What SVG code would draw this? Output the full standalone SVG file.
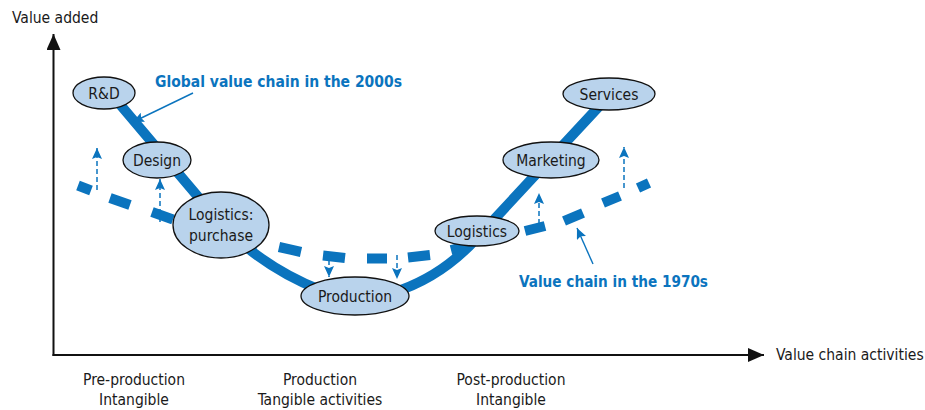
<svg xmlns="http://www.w3.org/2000/svg" width="925" height="410" viewBox="0 0 925 410">
  <style>
    .lbl { font-family: "DejaVu Sans Condensed", "DejaVu Sans", sans-serif; font-stretch: condensed; font-size: 15.5px; fill: #1a1a1a; }
    .node-text { font-family: "DejaVu Sans Condensed", "DejaVu Sans", sans-serif; font-stretch: condensed; font-size: 15.5px; fill: #1a1a1a; text-anchor: middle; }
    .blue-lbl { font-family: "DejaVu Sans Condensed", "DejaVu Sans", sans-serif; font-stretch: condensed; font-size: 15.5px; font-weight: bold; fill: #0b74be; }
    .node { fill: #b9d3ec; stroke: #111; stroke-width: 1.3; }
    .axis { stroke: #111; stroke-width: 2; fill: none; }
    .chain-new { stroke: #0b74be; stroke-width: 10; fill: none; }
    .chain-old { stroke: #0b74be; stroke-width: 10; fill: none; stroke-linecap: butt; }
    .shift { stroke: #0b74be; stroke-width: 1.5; fill: none; stroke-dasharray: 5 3; }
    .pointer { stroke: #0b74be; stroke-width: 1.4; fill: none; }
  </style>
  <defs>
    <marker id="axisHead" markerUnits="userSpaceOnUse" markerWidth="18" markerHeight="14" refX="16" refY="7" orient="auto">
      <polygon points="0,0 16,7 0,14" fill="#111"/>
    </marker>
    <marker id="blueHead" markerUnits="userSpaceOnUse" markerWidth="12" markerHeight="10" refX="11" refY="5" orient="auto">
      <polygon points="0,0 11,5 0,10 2,5" fill="#0b74be"/>
    </marker>
  </defs>

  <!-- axes -->
  <g id="axes">
    <path class="axis" d="M53.5,356 L53.5,34" marker-end="url(#axisHead)"/>
    <path class="axis" d="M52.5,355 L764,355" marker-end="url(#axisHead)"/>
    <text class="lbl" x="12" y="23">Value added</text>
    <text class="lbl" x="776" y="360">Value chain activities</text>
  </g>

  <!-- stage labels under the horizontal axis -->
  <g id="stages" class="node-text">
    <text x="134" y="385">Pre-production</text>
    <text x="134" y="405">Intangible</text>
    <text x="320" y="385">Production</text>
    <text x="320" y="405">Tangible activities</text>
    <text x="511" y="385">Post-production</text>
    <text x="511" y="405">Intangible</text>
  </g>

  <!-- connectors: value chain curves, shift arrows and label pointers -->
  <g id="connectors">
    <!-- 1970s chain: heavy dashes, one sub-path per dash -->
    <path class="chain-old" d="M78,185.5 L91,190.5 M110,198 L130,205 M152,212 L173,219.5 M195,227 L215,233 M237,239 L258,244
      M279,247 L301,252 M323,255.5 L345,258 M367,258.5 L387,258.5 M408,257.5 L430,255 M451,250 L471,245
      M525,231 L545,226 M564,221 L583,213 M603,203 L620,196 M638,188 L649,183"/>
    <!-- 2000s chain: solid smile curve -->
    <path class="chain-new" d="M112,95 L205,205 Q250,262 320,290"/>
    <path class="chain-new" d="M392,293 Q440,278 475,240 T605,100"/>

    <path class="shift" d="M97,190 L97,148" marker-end="url(#blueHead)"/>
    <path class="shift" d="M160,222 L160,179" marker-end="url(#blueHead)"/>
    <path class="shift" d="M329,252 L329,277" marker-end="url(#blueHead)"/>
    <path class="shift" d="M397,255 L397,279" marker-end="url(#blueHead)"/>
    <path class="shift" d="M539,224 L539,193" marker-end="url(#blueHead)"/>
    <path class="shift" d="M624,188 L624,147" marker-end="url(#blueHead)"/>

    <path class="pointer" d="M193,93 L133,122" marker-end="url(#blueHead)"/>
    <path class="pointer" d="M593,264 L577,228" marker-end="url(#blueHead)"/>
  </g>

  <!-- curve labels -->
  <g id="label-2000s">
    <text class="blue-lbl" x="155" y="87" textLength="247" lengthAdjust="spacingAndGlyphs">Global value chain in the 2000s</text>
  </g>
  <g id="label-1970s">
    <text class="blue-lbl" x="519" y="287" textLength="189" lengthAdjust="spacingAndGlyphs">Value chain in the 1970s</text>
  </g>

  <!-- activity nodes -->
  <g id="node-rd">
    <ellipse class="node" cx="104" cy="93" rx="31" ry="16"/>
    <text class="node-text" x="104" y="99">R&amp;D</text>
  </g>
  <g id="node-design">
    <ellipse class="node" cx="157" cy="160" rx="34" ry="18"/>
    <text class="node-text" x="157" y="166">Design</text>
  </g>
  <g id="node-logistics-purchase">
    <ellipse class="node" cx="221" cy="225" rx="48" ry="33"/>
    <text class="node-text" x="221" y="220">Logistics:</text>
    <text class="node-text" x="221" y="241">purchase</text>
  </g>
  <g id="node-production">
    <ellipse class="node" cx="355" cy="296" rx="54" ry="19"/>
    <text class="node-text" x="355" y="302">Production</text>
  </g>
  <g id="node-logistics">
    <ellipse class="node" cx="477" cy="231" rx="42" ry="15"/>
    <text class="node-text" x="477" y="237">Logistics</text>
  </g>
  <g id="node-marketing">
    <ellipse class="node" cx="551" cy="160" rx="48" ry="18"/>
    <text class="node-text" x="551" y="166">Marketing</text>
  </g>
  <g id="node-services">
    <ellipse class="node" cx="609" cy="94" rx="46" ry="16"/>
    <text class="node-text" x="609" y="100">Services</text>
  </g>
</svg>
